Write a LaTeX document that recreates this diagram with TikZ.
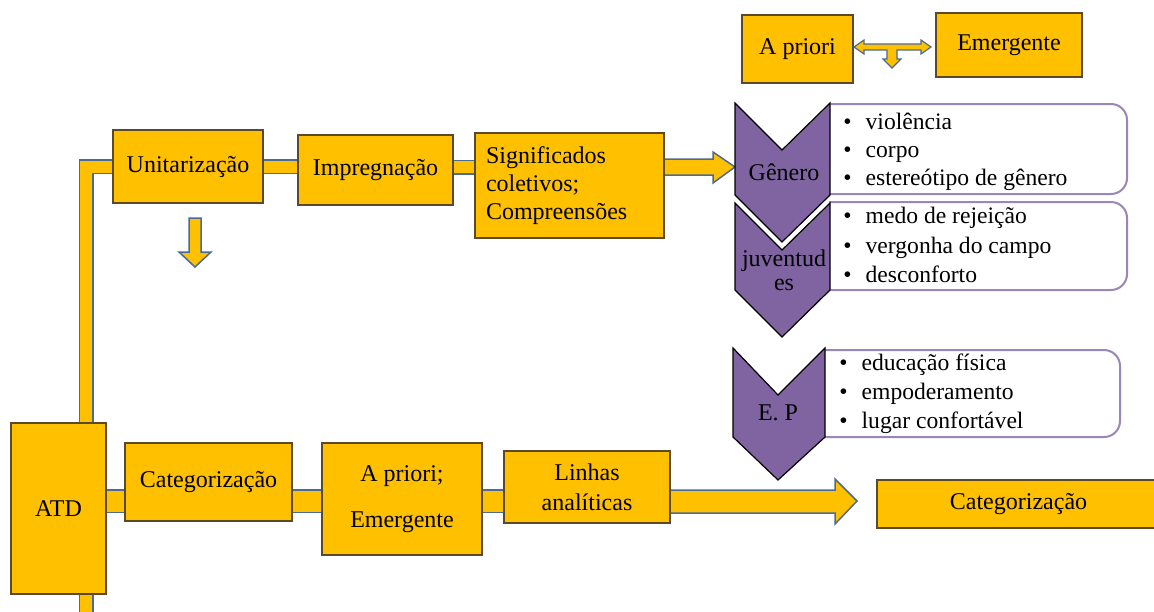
\documentclass[tikz,border=0pt]{standalone}
\usepackage{fontspec}
\setmainfont{Liberation Serif}
\usetikzlibrary{backgrounds,calc,positioning}

\definecolor{ouro}{HTML}{FFC000}
\definecolor{tubo}{HTML}{4A6B94}
\definecolor{roxo}{HTML}{8064A2}
\definecolor{roxoclaro}{HTML}{9A86B8}
\definecolor{borda}{HTML}{5A4A2A}

\tikzset{
  caixa/.style={draw=borda, line width=0.6pt, fill=ouro, inner sep=2pt, align=center},
  tuboA/.style={draw=tubo, line width=0.75pt, double=ouro, double distance=6pt},
  tuboB/.style={draw=tubo, line width=0.75pt, double=ouro, double distance=10.5pt},
  seta/.style={draw=tubo, line width=0.75pt, fill=ouro, line join=miter},
  divisa/.style={draw=black, line width=0.6pt, fill=roxo},
  lista/.style={draw=roxoclaro, line width=1pt, fill=white, rounded corners=8pt},
  itens/.style={anchor=west, align=left, inner sep=0pt},
}

\newcommand{\marca}{\textbullet\hspace{7pt}}

\begin{document}
\begin{tikzpicture}[x=0.5pt, y=-0.5pt, font=\fontsize{12}{14}\selectfont]
			\useasboundingbox (0,0) rectangle (1154,611);

			% Caixas de cima
			\node[caixa, minimum width=75pt, minimum height=36.5pt] (unit) at (188,166.5) {Unitarização};
			\node[caixa, minimum width=77.5pt, minimum height=35pt] (impr) at (375.5,170) {Impregnação};
			\node[caixa, minimum width=94.5pt, minimum height=52.5pt, text width=83.5pt, inner xsep=5.5pt, align=left] (sig) at (569.5,185.5) {Significados\\coletivos;\\Compreensões};
			\node[caixa, minimum width=55.5pt, minimum height=34pt] (apri) at (797.5,49) {A priori};
			\node[caixa, minimum width=73pt, minimum height=32pt] (emer) at (1009,45) {Emergente};

			% Caixas de baixo
			\node[caixa, minimum width=47.5pt, minimum height=85.5pt] (atd) at (58.5,508.5) {ATD};
			\node[caixa, minimum width=83.5pt, minimum height=39pt] (cat) at (208.5,482) {Categorização};
			\node[caixa, minimum width=80pt, minimum height=56pt] (aprem) at (402,499) {A priori;\\[9pt]Emergente};
			\node[caixa, minimum width=83pt, minimum height=36pt, font=\fontsize{12}{15}\selectfont] (linhas) at (587,487) {Linhas\\analíticas};
			\node[caixa, minimum width=141.5pt, minimum height=24pt] (catfim) at (1018.5,504) {Categorização};

			% Tubos e setas
			\begin{scope}[on background layer]
				\coordinate (base) at (86,625);
				\draw[tuboA] (base) |- (unit.west);
				\draw[tuboA] (unit.east) -- (unit.east -| impr.west);
				\draw[tuboA] (impr.east |- 0,167) -- (sig.west |- 0,167);
				\draw[tuboB] (atd.east |- 0,501) -- (linhas.west |- 0,501);

				\coordinate (pontaG) at (735,167);
				\draw[seta] (sig.east |- 0,159) -- (713,159) -- (713,152) -- (pontaG) -- (713,183) -- (713,175) -- (sig.east |- 0,175);
				\coordinate (pontaC) at (857,501);
				\draw[seta] (linhas.east |- 0,490) -- (835,490) -- (835,479) -- (pontaC) -- (835,524) -- (835,513) -- (linhas.east |- 0,513);
			\end{scope}

			\draw[seta] (189,218) -- (201,218) -- (201,252) -- (211,252) -- (195,267) -- (179,252) -- (189,252) -- cycle;
			\draw[seta, line width=0.6pt] (854,47) -- (864,40) -- (864,44) -- (921,44) -- (921,40) -- (931,47) -- (921,54) -- (921,50)
				-- (897,50) -- (897,59) -- (901,59) -- (892,68) -- (883,59) -- (887,59) -- (887,50) -- (864,50) -- (864,54) -- cycle;

			% Listas
			\draw[lista] (829,104) -- (1127,104) -- (1127,194) -- (829,194);
			\draw[lista] (829,202) -- (1127,202) -- (1127,290) -- (829,290);
			\draw[lista] (824,350) -- (1120,350) -- (1120,437) -- (824,437);

			% Divisas
			\draw[divisa] (735,103) -- (782,150) -- (830,103) -- (830,195) -- (782,242) -- (735,195) -- cycle;
			\draw[divisa] (735,203) -- (782,250) -- (830,203) -- (830,290) -- (782,337) -- (735,290) -- cycle;
			\draw[divisa] (733,348) -- (778,395) -- (825,348) -- (825,437) -- (778,480) -- (733,437) -- cycle;

			\node (gen) at (784,172) {Gênero};
			\node[align=center, font=\fontsize{12}{12}\selectfont] (juv) at (784,270) {juventud\\es};
			\node (ep) at (778,413) {E. P};

			\node[itens, font=\fontsize{11.8}{14}\selectfont] (l1) at (843,152) {\marca violência\\\marca corpo\\\marca estereótipo de gênero};
			\node[itens, font=\fontsize{11.8}{14.7}\selectfont] (l2) at (843,245) {\marca medo de rejeição\\\marca vergonha do campo\\\marca desconforto};
			\node[itens, font=\fontsize{11.8}{14.5}\selectfont] (l3) at (839,394) {\marca educação física\\\marca empoderamento\\\marca lugar confortável};
		\end{tikzpicture}
\end{document}
